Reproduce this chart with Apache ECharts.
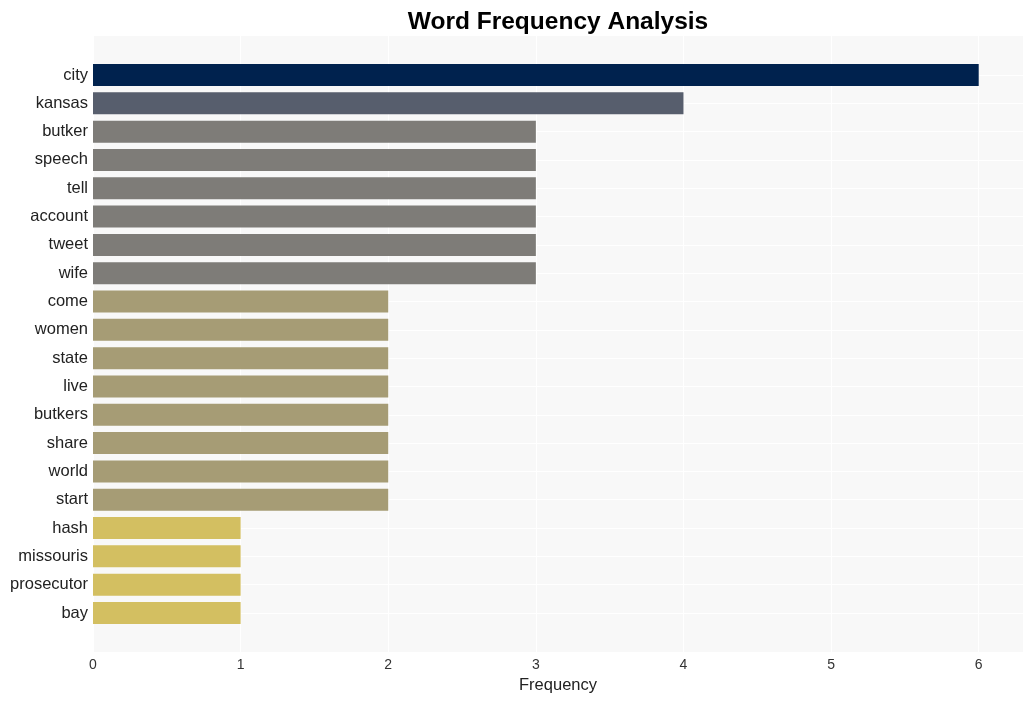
<!DOCTYPE html>
<html>
<head>
<meta charset="utf-8">
<script src="https://cdn.jsdelivr.net/npm/echarts@6/dist/echarts.min.js"></script>
<style>html,body{margin:0;padding:0;background:#fff;}#c{width:1033px;height:701px;}</style>
</head>
<body>
<div id="c"></div>
<script>
const categories = ["city","kansas","butker","speech","tell","account","tweet","wife","come","women","state","live","butkers","share","world","start","hash","missouris","prosecutor","bay"];
const values = [6,4,3,3,3,3,3,3,2,2,2,2,2,2,2,2,1,1,1,1];
const xTicks = [0,1,2,3,4,5,6];
const tierColors = {6:"#00224e",4:"#575e6d",3:"#7e7c78",2:"#a69c75",1:"#d3bf61"};

const chart = echarts.init(document.getElementById('c'));
const font = "Liberation Sans, Arial, sans-serif";
const xMax = 6.3;
chart.setOption({
  animation: false,
  title: {
    text: "Word Frequency Analysis", left: 553, top: 5, textAlign: 'center',
    textStyle: {fontFamily: font, fontWeight: 'bold', fontSize: 24.5, color: '#000'}
  },
  grid: [
    {left: 93, right: 10, top: 36, bottom: 49, show: true, backgroundColor: '#f8f8f8', borderWidth: 0},
    {left: 93, right: 10, top: 75, bottom: 88, show: false}
  ],
  xAxis: [
    {gridIndex: 0, type: 'value', min: 0, max: xMax, interval: 1,
     axisLine: {show: false}, axisTick: {show: false},
     splitLine: {show: true, lineStyle: {color: '#ffffff', width: 1}},
     axisLabel: {showMaxLabel: false, fontFamily: font, fontSize: 14, color: '#333', margin: 6,
       formatter: v => xTicks.includes(v) ? String(v) : ''},
     name: 'Frequency', nameLocation: 'middle', nameGap: 25,
     nameTextStyle: {fontFamily: font, fontSize: 16.5, color: '#222'}},
    {gridIndex: 1, type: 'value', min: 0, max: xMax, show: false}
  ],
  yAxis: [
    {gridIndex: 0, type: 'value', show: false, min: 0, max: 1},
    {gridIndex: 1, type: 'category', data: categories, inverse: true, boundaryGap: false,
     axisLine: {show: false}, axisTick: {show: false},
     splitLine: {show: true, lineStyle: {color: '#ffffff', width: 1}},
     axisLabel: {fontFamily: font, fontSize: 16.5, color: '#222', margin: 5, padding: [6, 0, 0, 0]}}
  ],
  series: [{
    type: 'bar', xAxisIndex: 1, yAxisIndex: 1, barWidth: 22,
    data: values.map(v => ({value: v, itemStyle: {color: tierColors[v]}}))
  }]
});
</script>
</body>
</html>
